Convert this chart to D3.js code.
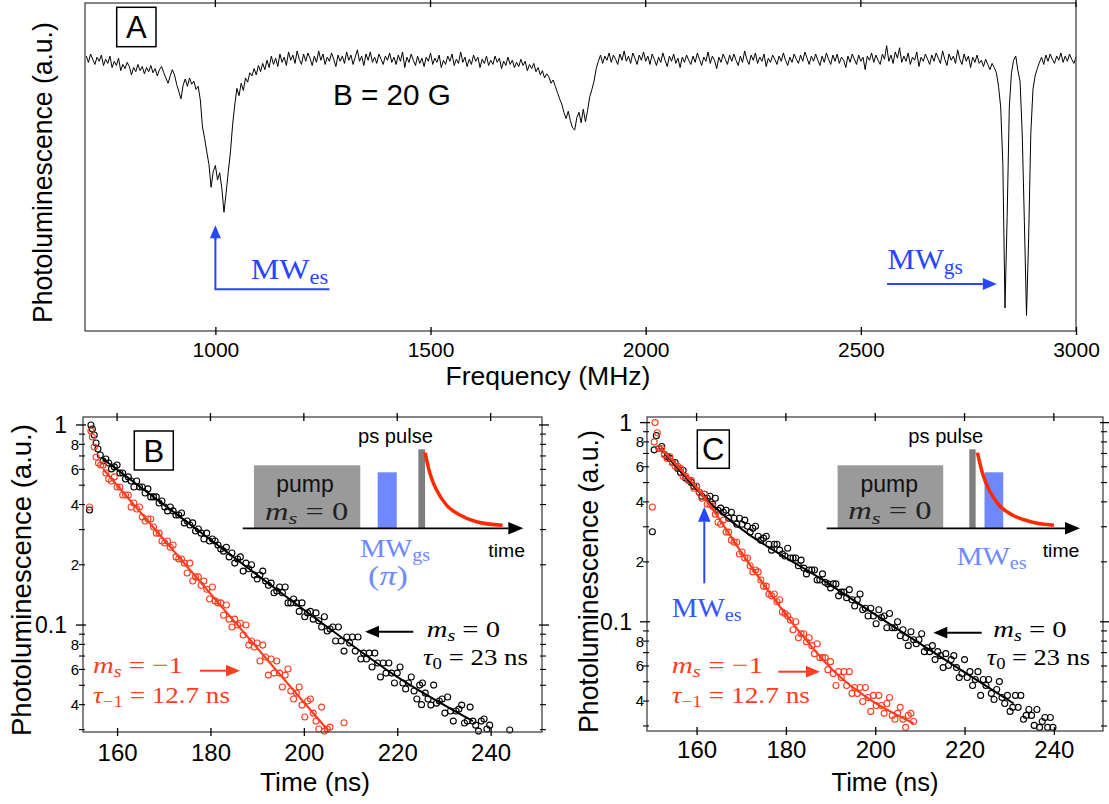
<!DOCTYPE html>
<html><head><meta charset="utf-8">
<script src="https://cdn.jsdelivr.net/npm/d3@7"></script>
<style>body{margin:0;background:#fff}svg{display:block}</style>
</head><body>
<svg id="fig" width="1109" height="804"></svg>
<script>
// ================= DATA =================
// Panel A: photoluminescence vs microwave frequency (5 MHz steps from 700 MHz)
const specStart = 700, specStep = 5;
const specPL = [
1.004,0.998,1.006,1.001,0.996,1.003,0.999,1.005,0.995,1.001,0.997,1.004,0.993,0.999,0.995,1.002,0.990,0.996,0.992,0.998,
0.994,0.986,0.993,0.989,0.996,0.990,0.994,0.987,0.993,0.989,0.995,0.988,0.992,0.985,0.991,0.994,0.988,0.983,0.978,0.985,
0.991,0.986,0.977,0.970,0.963,0.976,0.982,0.975,0.983,0.977,0.980,0.972,0.975,0.962,0.936,0.925,0.912,0.900,0.878,0.893,
0.899,0.885,0.892,0.877,0.854,0.873,0.893,0.912,0.938,0.957,0.973,0.966,0.978,0.971,0.983,0.979,0.988,0.985,0.992,0.986,
0.995,0.989,0.997,0.991,1.000,0.993,1.004,0.996,1.002,0.994,1.006,0.998,1.003,0.995,1.008,1.000,1.005,0.997,1.009,1.001,
0.996,1.006,0.999,1.007,1.002,0.995,1.004,0.998,1.009,1.000,1.006,0.996,1.003,0.999,1.007,1.001,0.994,1.005,0.999,1.004,
0.997,1.008,1.000,1.005,0.996,1.003,1.010,0.999,1.004,0.995,1.006,1.000,1.008,0.998,1.003,0.997,1.006,1.001,0.996,1.004,
1.000,1.007,0.998,1.003,0.996,1.005,0.999,1.008,0.993,1.003,0.998,1.006,1.000,0.995,1.004,0.997,1.002,0.994,1.003,0.999,
1.007,0.996,1.002,0.998,1.005,0.993,1.000,0.996,1.004,0.999,1.006,0.995,1.001,0.997,1.008,0.998,1.003,0.994,1.001,0.996,
1.005,0.999,1.003,0.993,1.001,0.997,1.004,0.995,1.000,0.996,1.004,0.998,1.002,0.992,0.999,0.995,1.003,0.996,1.000,0.993,
0.998,0.994,1.001,0.995,0.999,0.990,0.996,0.992,0.997,0.989,0.993,0.986,0.990,0.983,0.987,0.984,0.978,0.981,0.975,0.969,
0.963,0.958,0.950,0.944,0.951,0.942,0.935,0.933,0.945,0.950,0.940,0.953,0.941,0.952,0.965,0.972,0.980,0.992,0.999,1.005,
0.997,1.004,1.000,1.007,0.998,1.005,1.001,0.996,1.006,1.000,1.009,0.999,1.004,0.997,1.007,1.002,0.996,1.005,1.000,1.008,
0.999,1.004,0.996,1.006,1.001,0.995,1.003,0.998,1.007,1.000,0.994,1.004,0.999,1.006,0.997,1.002,0.993,1.003,0.998,1.005,
1.000,0.996,1.004,0.998,1.007,1.001,0.995,1.003,0.999,1.008,0.997,1.004,1.000,0.992,1.003,0.998,1.006,1.001,0.996,1.005,
0.999,1.006,1.000,0.995,1.004,0.998,1.009,1.001,0.996,1.005,1.000,1.007,0.997,1.003,0.999,1.006,0.994,1.002,0.998,1.005,
1.001,0.996,1.004,0.999,1.007,1.000,0.995,1.003,0.998,1.006,1.001,0.997,1.005,0.999,1.008,1.002,0.996,1.004,0.999,1.006,
1.000,0.995,1.004,0.998,1.007,1.001,0.996,1.005,0.999,1.006,0.997,1.003,1.000,0.993,1.004,0.998,1.006,1.001,0.996,1.005,
0.999,1.003,0.991,1.004,1.000,1.007,0.998,1.005,1.000,0.996,1.006,1.001,1.014,0.999,1.005,0.997,1.008,1.002,1.012,0.998,
1.004,0.999,1.007,0.996,1.003,1.000,1.008,0.994,1.003,0.999,1.006,1.001,0.996,1.005,0.999,1.007,1.002,0.997,1.009,1.001,
0.995,1.006,1.000,1.004,0.997,1.010,1.001,0.996,1.006,0.999,1.004,0.993,1.003,0.998,1.005,0.997,1.000,0.994,1.001,0.996,
0.991,0.997,0.993,0.988,0.975,0.955,0.900,0.762,0.850,0.955,0.988,1.000,1.004,0.990,0.980,0.930,0.845,0.755,0.830,0.930,
0.972,0.985,0.992,0.998,1.003,0.996,1.005,0.999,1.006,1.001,0.997,1.004,1.000,1.007,0.998,1.004,0.999,1.006,1.001,0.997,
1.003];
const freqTicks = [1000, 1500, 2000, 2500, 3000];

// Panels B, C: time-resolved PL (log scale), bins of 0.6 ns
const timeTicks = [160, 180, 200, 220, 240];
const logMajor = [1, 0.1];
const logMinorLabeled = [0.8, 0.6, 0.4, 0.2, 0.08, 0.06, 0.04];
const logMinorLabels = ["8", "6", "4", "2", "8", "6", "4"];
const logMinor = [0.9,0.8,0.7,0.6,0.5,0.4,0.3,0.2, 0.09,0.08,0.07,0.06,0.05,0.04,0.03];
const binStep = 0.6;

const bBlackT0 = 157.0;
const bBlack = [
.661,.676,.646,.603,.617,.631,.575,.575,.537,.550,
.525,.490,.525,.490,.490,.457,.479,.437,.437,.437,
.407,.417,.389,.372,.389,.372,.355,.355,.363,.324,
.331,.316,.324,.295,.302,.288,.269,.288,.263,.269,
.263,.251,.240,.234,.245,.219,.229,.204,.214,.219,
.186,.204,.191,.200,.178,.170,.178,.186,.166,.158,
.162,.145,.148,.155,.145,.155,.129,.129,.135,.129,
.117,.129,.110,.115,.117,.107,.115,.105,.0977,.110,
.0933,.0955,.0977,.0832,.0977,.0832,.0741,.0871,.0813,.0871,
.0741,.0871,.0676,.0724,.0676,.0724,.0617,.0724,.0646,.0550,
.0646,.0575,.0646,.0575,.0513,.0575,.0617,.0513,.0479,.0513,
.0550,.0468,.0427,.0501,.0513,.0457,.0427,.0398,.0501,.0407,
.0417,.0427,.0363,.0437,.0372,.0331,.0372,.0380,.0398,.0324,
.0331,.0389,.0331,.0316,.0295,.0331,.0339,.0302,.0316];
const bBlackExtra = [[154.1,0.376],[154.4,1.0],[154.7,0.955],[155.1,0.891],[155.5,0.813],[155.9,0.759],[156.4,0.708],[225.2,0.040],[244.1,0.0299]];
const bRedT0 = 157.0;
const bRed = [
.631,.575,.537,.525,.550,.490,.490,.447,.447,.447,
.389,.407,.380,.389,.347,.331,.339,.339,.309,.288,
.288,.263,.257,.263,.245,.251,.219,.214,.214,.204,
.182,.204,.166,.174,.174,.158,.166,.151,.135,.155,
.132,.129,.129,.112,.126,.107,.0977,.107,.100,.102,
.0891,.100,.0794,.0832,.0776,.0813,.0661,.0794,.0692,.0562,
.0676,.0575,.0661,.0575,.0490,.0562,.0603,.0468,.0427,.0457,
.0490,.0398,.0347,.0417,.0427,.0363,.0331,.0302,.0389,.0295,
.0302,.0309];
const bRedExtra = [[154.1,0.389],[154.4,0.933],[154.7,0.871],[155.1,0.776],[155.5,0.692],[156.0,0.646],[156.5,0.631],[208.6,0.0325]];
const bBlackFitT = [157.0, 179.8, 205.6, 219.4, 236.2];
const bBlackFitV = [0.676, 0.269, 0.0955, 0.0562, 0.0331];
const bRedFitT = [157.0, 205.2];
const bRedFitV = [0.603, 0.0297];

const cBlackT0 = 151.6;
const cBlack = [
.741,.759,.692,.676,.661,.631,.631,.589,.562,.575,
.525,.513,.501,.479,.479,.447,.427,.437,.417,.427,
.389,.417,.363,.372,.355,.363,.331,.355,.331,.309,
.331,.309,.324,.302,.282,.295,.302,.269,.257,.263,
.269,.245,.229,.245,.245,.229,.219,.214,.234,.209,
.209,.209,.191,.204,.186,.174,.182,.182,.182,.162,
.162,.174,.158,.155,.148,.155,.155,.135,.141,.141,
.132,.145,.129,.120,.129,.138,.115,.117,.107,.117,
.107,.0977,.115,.105,.107,.0933,.110,.0933,.0933,.100,
.0851,.0912,.0832,.0759,.0891,.0813,.0776,.0813,.0871,.0708,
.0741,.0708,.0759,.0646,.0708,.0676,.0589,.0692,.0603,.0646,
.0676,.0589,.0525,.0550,.0646,.0525,.0562,.0479,.0513,.0562,
.0427,.0513,.0479,.0513,.0437,.0407,.0457,.0501,.0417,.0389,
.0427,.0355,.0372,.0427,.0372,.0427,.0324,.0339,.0363,.0339,
.0302,.0363,.0295,.0316,.0331,.0295,.0331,.0295];
const cBlackExtra = [[150.1,0.283],[150.5,0.73],[151.0,0.86]];
const cRedT0 = 151.6;
const cRed = [
.741,.741,.692,.661,.676,.631,.603,.603,.589,.537,
.537,.513,.513,.468,.479,.447,.417,.437,.389,.389,
.380,.347,.316,.309,.324,.282,.282,.257,.251,.251,
.219,.224,.209,.209,.191,.178,.182,.178,.162,.151,
.151,.138,.135,.138,.126,.129,.112,.110,.107,.102,
.0912,.100,.0832,.0871,.0871,.0794,.0832,.0759,.0692,.0776,
.0661,.0661,.0661,.0575,.0631,.0550,.0479,.0562,.0525,.0562,
.0479,.0562,.0437,.0468,.0437,.0468,.0398,.0468,.0417,.0355,
.0427,.0380,.0427,.0380,.0347,.0389,.0417,.0339,.0324,.0347,
.0372,.0324,.0295,.0339,.0347,.0316];
const cRedExtra = [[150.1,0.377],[150.5,0.80],[150.7,1.0],[151.2,0.89]];
const cBlackFitT = [152.0, 161.5, 191.0, 231.0];
const cBlackFitV = [0.741, 0.427, 0.148, 0.0389];
const cRedFitT = [152.0, 161.5, 171.2, 181.6, 191.3, 198.1, 208.6];
const cRedFitV = [0.741, 0.427, 0.204, 0.0977, 0.0550, 0.0417, 0.0309];

// Pulse-sequence schematics (schematic time units 0-100, heights in units)
const insetBPulses = [{k:"pump", a:4.0, b:41.9, h:63}, {k:"mw", a:48.1, b:54.9, h:56}, {k:"ps", a:62.6, b:65.0, h:79}];
const insetCPulses = [{k:"pump", a:4.3, b:46.0, h:63}, {k:"ps", a:56.3, b:58.8, h:79}, {k:"mw", a:62.3, b:69.7, h:56}];
const decayH = [75.6, 55, 38.3, 23.3, 13.3, 6.6, 3.0];
const decayUB = [65.0, 66.7, 69.1, 72.6, 77.4, 83.3, 92.6];
const decayUC = [59.5, 61.5, 64.1, 68.0, 73.3, 80.5, 89.7];

// ================= DRAWING =================
const SANS = "'Liberation Sans', Arial, Helvetica, sans-serif";
const SERIF = "'Liberation Serif', 'Times New Roman', serif";
const FRAME = "#444";
const RED = "#ff3d1f";
const BLUE = "#2646ff";
const LBLUE = "#6f8aff";
const svg = d3.select("#fig");

function label(parent, segs, o) {
  const g = parent.append("g");
  const t = g.append("text").attr("font-family", o.family || SERIF)
    .attr("font-size", o.fs).attr("fill", o.color || "#000");
  let cur = 0;
  segs.forEach(s => {
    const ts = t.append("tspan").text(s.t);
    if (s.it) ts.attr("font-style", "italic");
    if (s.sub) ts.attr("font-size", o.fs * 0.7);
    const off = s.sub ? o.fs * 0.17 : 0;
    if (off !== cur) ts.attr("dy", off - cur);
    cur = off;
  });
  const w = t.node().getBBox().width;
  const sx = o.width ? o.width / w : 1;
  if (o.rotate) {
    t.attr("x", -w / 2);
    g.attr("transform", `translate(${o.x},${o.y}) rotate(-90) scale(${sx},1)`);
  } else {
    const x0 = o.anchor === "middle" ? o.x - w * sx / 2 : o.x;
    g.attr("transform", `translate(${x0},${o.y}) scale(${sx},1)`);
  }
  return g;
}
function arrow(parent, x1, y1, x2, y2, color, w, head) {
  const ang = Math.atan2(y2 - y1, x2 - x1);
  const hl = head || 12, hw = (head || 12) * 0.42;
  const bx = x2 - hl * Math.cos(ang), by = y2 - hl * Math.sin(ang);
  parent.append("line").attr("x1", x1).attr("y1", y1).attr("x2", bx).attr("y2", by)
    .attr("stroke", color).attr("stroke-width", w);
  const px = -Math.sin(ang) * hw, py = Math.cos(ang) * hw;
  parent.append("path").attr("d", `M${x2},${y2}L${bx + px},${by + py}L${bx - px},${by - py}Z`).attr("fill", color);
}
function boxLetter(parent, L, x, y, w, h) {
  parent.append("rect").attr("x", x).attr("y", y).attr("width", w).attr("height", h)
    .attr("fill", "#fff").attr("stroke", "#000").attr("stroke-width", 1.5);
  parent.append("text").attr("x", x + w / 2).attr("y", y + h / 2 + 11).attr("text-anchor", "middle")
    .attr("font-family", SANS).attr("font-size", 31).text(L);
}

// ---------- Panel A ----------
const xA = d3.scaleLinear().domain([697, 3000]).range([85, 1076]);
const yA = d3.scaleLinear().domain([0.74, 1.055]).range([331, 3]);
const gA = svg.append("g");
gA.append("path").datum(specPL)
  .attr("d", d3.line().x((d, i) => xA(specStart + i * specStep)).y(d => yA(d)))
  .attr("fill", "none").attr("stroke", "#000").attr("stroke-width", 1).attr("stroke-linejoin", "round");
gA.append("rect").attr("x", xA.range()[0]).attr("y", yA.range()[1])
  .attr("width", xA.range()[1] - xA.range()[0]).attr("height", yA.range()[0] - yA.range()[1])
  .attr("fill", "none").attr("stroke", FRAME).attr("stroke-width", 1.3);
const axA = gA.append("g").attr("transform", `translate(0,${yA.range()[0]})`)
  .call(d3.axisBottom(xA).tickValues(freqTicks).tickFormat(d3.format("d")).tickSize(4).tickSizeOuter(0));
axA.select(".domain").remove();
axA.selectAll(".tick line").attr("y1", -4).attr("y2", 4).attr("stroke", "#000").attr("stroke-width", 1.3);
axA.selectAll(".tick text").attr("y", 26).attr("dy", 0).attr("font-family", SANS).attr("font-size", 21).attr("fill", "#000");
gA.selectAll(".topTickA").data(freqTicks).enter().append("line")
  .attr("x1", d => xA(d)).attr("x2", d => xA(d)).attr("y1", yA.range()[1] - 4).attr("y2", yA.range()[1] + 4)
  .attr("stroke", "#000").attr("stroke-width", 1.3);
label(gA, [{t: "Frequency (MHz)"}], {x: 548, y: 385, fs: 26, width: 205, family: SANS, anchor: "middle"});
label(gA, [{t: "Photoluminescence (a.u.)"}], {x: 52, y: 172.5, fs: 28, width: 301, family: SANS, rotate: true});
boxLetter(gA, "A", 116.7, 7.3, 39.3, 39.4);
label(gA, [{t: "B = 20 G"}], {x: 333, y: 105, fs: 30, width: 118, family: SANS});
// MW_es marker
gA.append("path").attr("d", `M${xA(1265)},289.3H${xA(1000)}V238`).attr("fill", "none").attr("stroke", BLUE).attr("stroke-width", 2);
arrow(gA, xA(1000), 240, xA(1000), 225.3, BLUE, 2, 13);
label(gA, [{t: "MW"}, {t: "es", sub: 1}], {x: 250.7, y: 279, fs: 29, width: 77.6, color: BLUE});
arrow(gA, xA(2561), 284, xA(2816), 284, BLUE, 2, 14);
label(gA, [{t: "MW"}, {t: "gs", sub: 1}], {x: 887.6, y: 269, fs: 29, width: 75.5, color: BLUE});

// ---------- Log panels ----------
function logPanel(p) {
  const x = d3.scaleLinear().domain(p.xd).range([p.l, p.r]);
  const y = d3.scaleLog().domain(p.yd).range([p.b, p.t]);
  const g = svg.append("g");
  return {x, y, g, p};
}
function panelFrame(P) {
  const {x, y, g, p} = P;
  g.append("rect").attr("x", p.l).attr("y", p.t).attr("width", p.r - p.l).attr("height", p.b - p.t)
    .attr("fill", "none").attr("stroke", FRAME).attr("stroke-width", 1.3);
  const ax = g.append("g").attr("transform", `translate(0,${p.b})`)
    .call(d3.axisBottom(x).tickValues(timeTicks).tickSize(4).tickSizeOuter(0));
  ax.select(".domain").remove();
  ax.selectAll(".tick line").attr("y1", -4).attr("y2", 4).attr("stroke", "#000").attr("stroke-width", 1.3);
  ax.selectAll(".tick text").attr("y", p.tickY).attr("dy", 0).attr("font-family", SANS).attr("font-size", 24).attr("fill", "#000");
  g.selectAll(".tt").data(timeTicks).enter().append("line")
    .attr("x1", d => x(d)).attr("x2", d => x(d)).attr("y1", p.t - 4).attr("y2", p.t + 4)
    .attr("stroke", "#000").attr("stroke-width", 1.3);
  [[p.l, -1], [p.r, 1]].forEach(([xx, s]) => {
    g.selectAll(null).data(logMinor).enter().append("line")
      .attr("x1", xx + (s < 0 ? -4 : -2)).attr("x2", xx + (s < 0 ? 2 : 4))
      .attr("y1", d => y(d)).attr("y2", d => y(d)).attr("stroke", "#000").attr("stroke-width", 1.1);
    g.selectAll(null).data(logMajor).enter().append("line")
      .attr("x1", xx + (s < 0 ? -7 : -3)).attr("x2", xx + (s < 0 ? 3 : 7))
      .attr("y1", d => y(d)).attr("y2", d => y(d)).attr("stroke", "#000").attr("stroke-width", 1.3);
  });
  g.selectAll(null).data(logMinorLabeled).enter().append("text")
    .attr("x", p.l - p.minorOff).attr("y", d => y(d)).attr("dy", "0.36em").attr("text-anchor", "end")
    .attr("font-family", SANS).attr("font-size", 15).text((d, i) => logMinorLabels[i]);
  g.selectAll(null).data(logMajor).enter().append("text")
    .attr("x", p.l - p.majorOff).attr("y", d => y(d)).attr("dy", "0.36em").attr("text-anchor", "end")
    .attr("font-family", SANS).attr("font-size", 23).text(d => d === 1 ? "1" : "0.1");
  label(g, [{t: "Time (ns)"}], {x: p.xlabX, y: 791, fs: 26, width: p.xlabW, family: SANS, anchor: "middle"});
  label(g, [{t: "Photoluminescence (a.u.)"}], {x: p.ylabX, y: p.ylabY, fs: 28, width: p.ylabW, family: SANS, rotate: true});
}
function series(P, t0, vals, extra, color) {
  const pts = vals.map((v, i) => [t0 + i * binStep, v]).concat(extra);
  P.g.append("g").selectAll("circle").data(pts).enter().append("circle")
    .attr("cx", d => P.x(d[0])).attr("cy", d => P.y(d[1])).attr("r", 3)
    .attr("fill", "none").attr("stroke", color).attr("stroke-width", 1.1);
}
function fit(P, T, V, color, w) {
  P.g.append("path").datum(T.map((t, i) => [t, V[i]]))
    .attr("d", d3.line().curve(d3.curveMonotoneX).x(d => P.x(d[0])).y(d => P.y(d[1])))
    .attr("fill", "none").attr("stroke", color).attr("stroke-width", w);
}
function inset(P, x0, x1, pulses, decayU) {
  const g = P.g.append("g");
  const sx = d3.scaleLinear().domain([0, 100]).range([x0, x1]);
  const sy = d3.scaleLinear().domain([0, 100]).range([528.3, 428.3]);
  const col = {pump: "#9a9a9a", mw: "#7088ff", ps: "#7d7d7d"};
  g.selectAll("rect").data(pulses).enter().append("rect")
    .attr("x", d => sx(d.a)).attr("width", d => sx(d.b) - sx(d.a))
    .attr("y", d => sy(d.h)).attr("height", d => sy(0) - sy(d.h)).attr("fill", d => col[d.k]);
  g.append("path").datum(decayU.map((u, i) => [u, decayH[i]]))
    .attr("d", d3.line().curve(d3.curveMonotoneX).x(d => sx(d[0])).y(d => sy(d[1])))
    .attr("fill", "none").attr("stroke", "#ff2a00").attr("stroke-width", 3.5);
  arrow(g, sx(0), sy(0), sx(100), sy(0), "#000", 1.8, 15);
  return {g, sx, sy};
}

// ---------- Panel B ----------
const PB = logPanel({l: 83, r: 542, t: 417, b: 732, xd: [152.7, 251], yd: [0.0292, 1.096],
  tickY: 29, minorOff: 4, majorOff: 16, xlabX: 315, xlabW: 110, ylabX: 31, ylabY: 580, ylabW: 312});
series(PB, bBlackT0, bBlack, bBlackExtra, "#000");
series(PB, bRedT0, bRed, bRedExtra, RED);
fit(PB, bBlackFitT, bBlackFitV, "#000", 2);
fit(PB, bRedFitT, bRedFitV, RED, 2.2);
panelFrame(PB);
boxLetter(PB.g, "B", 134.3, 431, 39, 39);
inset(PB, 242.7, 523.3, insetBPulses, decayUB);
label(PB.g, [{t: "pump"}], {x: 305, y: 491.7, fs: 23, family: SANS, anchor: "middle", color: "#111"});
label(PB.g, [{t: "m", it: 1}, {t: "s", it: 1, sub: 1}, {t: " = 0"}], {x: 265, y: 520, fs: 25, width: 83.3, color: "#222"});
label(PB.g, [{t: "ps pulse"}], {x: 358, y: 443.3, fs: 20, width: 75, family: SANS});
label(PB.g, [{t: "time"}], {x: 488.3, y: 556.7, fs: 19, width: 36.7, family: SANS});
label(PB.g, [{t: "MW"}, {t: "gs", sub: 1}], {x: 360, y: 556.7, fs: 26, width: 70, color: LBLUE});
label(PB.g, [{t: "("}, {t: "π", it: 1}, {t: ")"}], {x: 368, y: 585, fs: 27, width: 40, color: LBLUE});
arrow(PB.g, 413.3, 631.7, 365, 631.7, "#000", 2, 14);
label(PB.g, [{t: "m", it: 1}, {t: "s", it: 1, sub: 1}, {t: " = 0"}], {x: 426.7, y: 636.7, fs: 24, width: 73.3});
label(PB.g, [{t: "τ", it: 1}, {t: "0", sub: 1}, {t: " = 23 ns"}], {x: 423, y: 665, fs: 24, width: 105});
label(PB.g, [{t: "m", it: 1}, {t: "s", it: 1, sub: 1}, {t: " = −1"}], {x: 93, y: 673, fs: 24, width: 90, color: RED});
arrow(PB.g, 200, 670.7, 240, 670.7, RED, 2, 14);
label(PB.g, [{t: "τ", it: 1}, {t: "−1", sub: 1}, {t: " = 12.7 ns"}], {x: 93, y: 703.3, fs: 24, width: 137, color: RED});

// ---------- Panel C ----------
const PC = logPanel({l: 647, r: 1103, t: 417, b: 731, xd: [148.9, 251], yd: [0.0283, 1.067],
  tickY: 27, minorOff: 3, majorOff: 15, xlabX: 885, xlabW: 107, ylabX: 598, ylabY: 581.5, ylabW: 303});
series(PC, cBlackT0, cBlack, cBlackExtra, "#000");
series(PC, cRedT0, cRed, cRedExtra, RED);
fit(PC, cBlackFitT, cBlackFitV, "#000", 2);
fit(PC, cRedFitT, cRedFitV, RED, 2.2);
panelFrame(PC);
boxLetter(PC.g, "C", 697.3, 430, 32, 38.3);
inset(PC, 826.7, 1080, insetCPulses, decayUC);
label(PC.g, [{t: "pump"}], {x: 889.3, y: 491.7, fs: 23, family: SANS, anchor: "middle", color: "#111"});
label(PC.g, [{t: "m", it: 1}, {t: "s", it: 1, sub: 1}, {t: " = 0"}], {x: 848.3, y: 519.3, fs: 25, width: 83.4, color: "#222"});
label(PC.g, [{t: "ps pulse"}], {x: 908.3, y: 443.3, fs: 20, width: 75, family: SANS});
label(PC.g, [{t: "time"}], {x: 1042.7, y: 556.7, fs: 19, width: 36.7, family: SANS});
label(PC.g, [{t: "MW"}, {t: "es", sub: 1}], {x: 956.7, y: 565, fs: 26, width: 70, color: LBLUE});
arrow(PC.g, 981.7, 632.7, 933.3, 632.7, "#000", 2, 14);
label(PC.g, [{t: "m", it: 1}, {t: "s", it: 1, sub: 1}, {t: " = 0"}], {x: 993.3, y: 636.7, fs: 24, width: 73.4});
label(PC.g, [{t: "τ", it: 1}, {t: "0", sub: 1}, {t: " = 23 ns"}], {x: 986.7, y: 665, fs: 24, width: 103.3});
arrow(PC.g, 704.3, 583.3, 704.3, 506.7, BLUE, 2, 15);
label(PC.g, [{t: "MW"}, {t: "es", sub: 1}], {x: 671.7, y: 616.7, fs: 27, width: 70, color: "#3556ff"});
label(PC.g, [{t: "m", it: 1}, {t: "s", it: 1, sub: 1}, {t: " = −1"}], {x: 671.7, y: 673.3, fs: 24, width: 91.6, color: RED});
arrow(PC.g, 778.3, 671.7, 820, 671.7, RED, 2, 14);
label(PC.g, [{t: "τ", it: 1}, {t: "−1", sub: 1}, {t: " = 12.7 ns"}], {x: 671.7, y: 703.3, fs: 24, width: 138.3, color: RED});
</script>
</body></html>
